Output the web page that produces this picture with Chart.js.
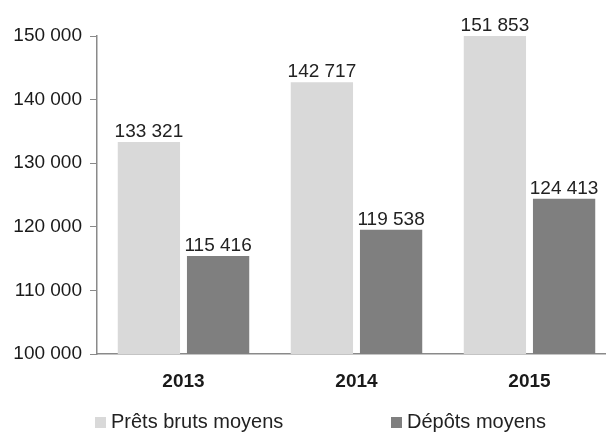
<!DOCTYPE html>
<html>
<head>
<meta charset="utf-8">
<script src="https://cdn.jsdelivr.net/npm/chart.js@4.4.1/dist/chart.umd.min.js"></script>
<style>
  html, body { margin: 0; padding: 0; background: #fff; overflow: hidden; }
  #wrap { position: relative; width: 616px; height: 432px; }
</style>
</head>
<body>
<div id="wrap"><canvas id="chart" width="616" height="432"></canvas></div>
<script>
// data
const years = ["2013", "2014", "2015"];
const prets = [133321, 142717, 151853];
const depots = [115416, 119538, 124413];
const seriesNames = ["Prêts bruts moyens", "Dépôts moyens"];
const seriesColors = ["#d9d9d9", "#7f7f7f"];

const FONT = "'Liberation Sans', Arial, sans-serif";
const fmt = v => String(v).replace(/\B(?=(\d{3})+(?!\d))/g, " ");

// value labels above bars (clipped bar -> label at top of plot)
const valueLabels = {
  id: "valueLabels",
  afterDatasetsDraw(chart) {
    const ctx = chart.ctx;
    ctx.save();
    ctx.font = "19px " + FONT;
    ctx.fillStyle = "#222";
    ctx.textAlign = "center";
    ctx.textBaseline = "alphabetic";
    chart.data.datasets.forEach((ds, i) => {
      chart.getDatasetMeta(i).data.forEach((bar, j) => {
        const y = Math.max(bar.y, chart.chartArea.top);
        ctx.fillText(fmt(ds.data[j]), bar.x, y - 5);
      });
    });
    ctx.restore();
  }
};

// legend at the bottom
const bottomLegend = {
  id: "bottomLegend",
  afterDraw(chart) {
    const ctx = chart.ctx;
    const starts = [95, 391];
    const y = 422;
    ctx.save();
    ctx.font = "20px " + FONT;
    ctx.textBaseline = "middle";
    chart.data.datasets.forEach((ds, i) => {
      ctx.fillStyle = ds.backgroundColor;
      ctx.fillRect(starts[i], y - 5, 11, 11);
      ctx.fillStyle = "#222";
      ctx.fillText(ds.label, starts[i] + 16, y);
    });
    ctx.restore();
  }
};

new Chart(document.getElementById("chart"), {
  type: "bar",
  data: {
    labels: years,
    datasets: [
      { label: seriesNames[0], data: prets, backgroundColor: seriesColors[0] },
      { label: seriesNames[1], data: depots, backgroundColor: seriesColors[1] }
    ]
  },
  options: {
    responsive: false,
    animation: false,
    devicePixelRatio: 1,
    categoryPercentage: 0.8,
    barPercentage: 0.9,
    layout: { padding: { top: 36, left: 0, right: 0, bottom: 0 } },
    plugins: {
      legend: { display: false },
      tooltip: { enabled: false }
    },
    scales: {
      x: {
        grid: { display: true, drawOnChartArea: false, drawTicks: false },
        border: { color: "#8a8a8a", width: 1.5 },
        ticks: { color: "#1a1a1a", font: { family: FONT, size: 19, weight: "bold" }, padding: 16 },
        afterFit(scale) { scale.height = 78; }
      },
      y: {
        min: 100000,
        max: 150000,
        grid: { display: true, drawOnChartArea: false, drawTicks: true, tickLength: 7, color: "#8a8a8a" },
        border: { color: "#8a8a8a", width: 1.5 },
        ticks: {
          stepSize: 10000,
          color: "#1a1a1a",
          padding: 8,
          font: { family: FONT, size: 19 },
          callback: v => fmt(v)
        },
        afterFit(scale) { scale.width = 97; }
      }
    }
  },
  plugins: [valueLabels, bottomLegend]
});
</script>
</body>
</html>
